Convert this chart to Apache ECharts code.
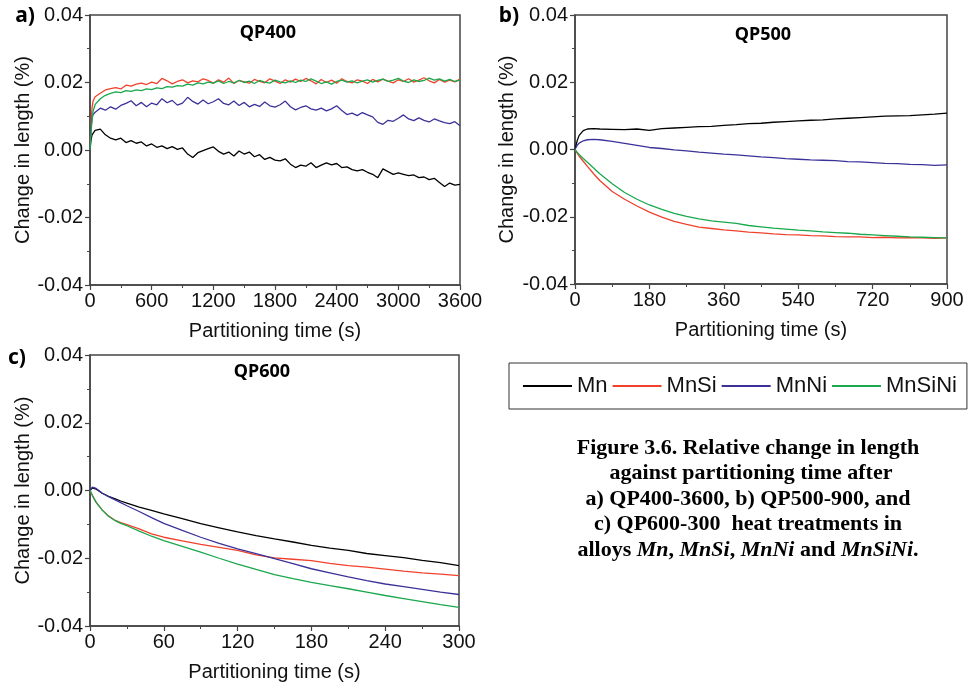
<!DOCTYPE html>
<html><head><meta charset="utf-8">
<script src="https://cdn.jsdelivr.net/npm/echarts@6/dist/echarts.min.js"></script>
<style>html,body{margin:0;padding:0;background:#fff}#c{width:970px;height:687px}</style>
</head><body><div id="c"></div>
<script>
// ---- Panel a) QP400 : time (s) ----
const ta = [0,10,20,30,50,100,150,200,250,300,
 350,400,450,500,550,600,650,700,750,800,
 850,900,950,1000,1050,1100,1150,1200,1250,1300,
 1350,1400,1450,1500,1550,1600,1650,1700,1750,1800,
 1850,1900,1950,2000,2050,2100,2150,2200,2250,2300,
 2350,2400,2450,2500,2550,2600,2650,2700,2750,2800,
 2850,2900,2950,3000,3050,3100,3150,3200,3250,3300,
 3350,3400,3450,3500,3550,3600];
const mnA = [0,0.003,0.0045,0.005,0.0058,0.0062,0.0045,0.0035,0.003,0.0035,
 0.0022,0.0028,0.002,0.0024,0.0012,0.0018,0.0008,0.0012,0.0004,0.001,
 0.0002,0.0006,-0.0012,-0.0022,-0.0008,-0.0002,0.0004,0.0009,-0.0004,-0.0012,
 -0.0006,-0.0018,-0.0003,-0.0012,-0.0006,-0.002,-0.0014,-0.0028,-0.0022,-0.003,
 -0.0032,-0.0026,-0.0042,-0.0052,-0.0045,-0.0048,-0.0038,-0.0052,-0.0045,-0.0038,
 -0.0044,-0.004,-0.0052,-0.005,-0.0058,-0.0062,-0.0058,-0.0066,-0.0072,-0.0082,
 -0.0056,-0.0064,-0.0072,-0.0068,-0.0072,-0.0076,-0.0074,-0.0082,-0.008,-0.0088,
 -0.0084,-0.0096,-0.0108,-0.0098,-0.0104,-0.0102];
const mnsiA = [0,0.0085,0.0125,0.0145,0.0158,0.0168,0.0178,0.0182,0.0185,0.0181,
 0.0192,0.0189,0.0195,0.0198,0.0194,0.0201,0.0197,0.0212,0.0205,0.0196,
 0.0203,0.0208,0.0199,0.0205,0.0202,0.0211,0.0206,0.0198,0.0208,0.0201,
 0.0213,0.0197,0.0206,0.0202,0.0198,0.0209,0.0203,0.0199,0.0211,0.0204,
 0.0197,0.0208,0.0201,0.0210,0.0203,0.0212,0.0205,0.0196,0.0209,0.0200,
 0.0207,0.0198,0.0211,0.0203,0.0199,0.0208,0.0204,0.0197,0.0209,0.0202,
 0.0210,0.0204,0.0199,0.0208,0.0203,0.0211,0.0201,0.0207,0.0214,0.0205,
 0.0199,0.0209,0.0201,0.0207,0.0202,0.0210];
const mnniA = [0,0.0065,0.0095,0.0105,0.0112,0.0124,0.0118,0.0128,0.0121,0.0132,
 0.0138,0.0146,0.0131,0.0141,0.0128,0.0139,0.0134,0.0152,0.0140,0.0147,
 0.0133,0.0139,0.0156,0.0144,0.0136,0.0148,0.0137,0.0143,0.0152,0.0138,
 0.0134,0.0145,0.0132,0.0141,0.0128,0.0135,0.0129,0.0142,0.0131,0.0127,
 0.0134,0.0145,0.0128,0.0119,0.0126,0.0131,0.0122,0.0118,0.0124,0.0116,
 0.0122,0.0131,0.0117,0.0105,0.0109,0.0102,0.0111,0.0104,0.0098,0.0082,
 0.0076,0.0088,0.0085,0.0094,0.0104,0.0092,0.0087,0.0095,0.0088,0.0083,
 0.0092,0.0086,0.0081,0.0078,0.0084,0.0072];
const mnsiniA = [0,0.005,0.009,0.0115,0.0135,0.0152,0.0162,0.0168,0.0172,0.0170,
 0.0176,0.0174,0.0178,0.0176,0.0181,0.0179,0.0184,0.0182,0.0188,0.0186,
 0.0191,0.0189,0.0195,0.0192,0.0199,0.0196,0.0201,0.0198,0.0205,0.0197,
 0.0203,0.0199,0.0206,0.0200,0.0204,0.0197,0.0206,0.0201,0.0198,0.0207,
 0.0202,0.0199,0.0205,0.0200,0.0207,0.0203,0.0211,0.0204,0.0197,0.0202,
 0.0195,0.0203,0.0207,0.0201,0.0205,0.0199,0.0204,0.0208,0.0201,0.0206,
 0.0210,0.0203,0.0207,0.0212,0.0204,0.0200,0.0208,0.0203,0.0206,0.0213,
 0.0207,0.0211,0.0204,0.0209,0.0203,0.0207];

// ---- Panel b) QP500 ----
const tb = [0,5,10,20,30,45,60,90,120,150,180,210,240,270,300,330,360,390,420,450,480,510,540,570,600,630,660,690,720,750,780,810,840,870,900];
const mnB = [0,0.0025,0.0042,0.0056,0.0061,0.0062,0.0061,0.0060,0.0059,0.0061,0.0057,0.0062,0.0064,0.0066,0.0068,0.0069,0.0072,0.0074,0.0077,0.0078,0.0081,0.0083,0.0085,0.0087,0.0088,0.0091,0.0093,0.0095,0.0097,0.0099,0.0100,0.0101,0.0103,0.0105,0.0108];
const mnsiB = [0,-0.0010,-0.0020,-0.0035,-0.0050,-0.0072,-0.0092,-0.0125,-0.0148,-0.0168,-0.0186,-0.0201,-0.0214,-0.0223,-0.0231,-0.0235,-0.0239,-0.0242,-0.0246,-0.0248,-0.0251,-0.0253,-0.0254,-0.0256,-0.0257,-0.0259,-0.0260,-0.0260,-0.0262,-0.0261,-0.0263,-0.0262,-0.0263,-0.0264,-0.0263];
const mnniB = [0,0.0012,0.0019,0.0026,0.0029,0.0030,0.0029,0.0024,0.0018,0.0012,0.0006,0.0003,-0.0001,-0.0004,-0.0008,-0.0011,-0.0014,-0.0016,-0.0019,-0.0022,-0.0024,-0.0027,-0.0029,-0.0031,-0.0032,-0.0033,-0.0036,-0.0037,-0.0039,-0.0041,-0.0042,-0.0044,-0.0045,-0.0047,-0.0046];
const mnsiniB = [0,-0.0008,-0.0015,-0.0027,-0.0038,-0.0055,-0.0072,-0.0102,-0.0128,-0.0148,-0.0165,-0.0178,-0.0190,-0.0199,-0.0206,-0.0212,-0.0216,-0.0220,-0.0226,-0.0230,-0.0234,-0.0237,-0.0240,-0.0242,-0.0245,-0.0247,-0.0249,-0.0252,-0.0254,-0.0256,-0.0258,-0.0260,-0.0261,-0.0262,-0.0263];

// ---- Panel c) QP600 ----
const tc = [0,2,5,10,15,20,25,30,40,50,60,75,90,105,120,135,150,165,180,195,210,225,240,255,270,285,300];
const mnC = [0,0.0008,0.0004,-0.0008,-0.0017,-0.0024,-0.0031,-0.0037,-0.0049,-0.0059,-0.0069,-0.0083,-0.0098,-0.0110,-0.0122,-0.0133,-0.0143,-0.0152,-0.0162,-0.0170,-0.0177,-0.0186,-0.0192,-0.0198,-0.0206,-0.0213,-0.0222];
const mnsiC = [0,-0.0015,-0.0035,-0.0058,-0.0075,-0.0087,-0.0095,-0.0101,-0.0113,-0.0128,-0.0138,-0.0149,-0.0159,-0.0168,-0.0177,-0.0190,-0.0199,-0.0203,-0.0207,-0.0215,-0.0222,-0.0226,-0.0232,-0.0238,-0.0243,-0.0247,-0.0251];
const mnniC = [0,0.0010,0.0006,-0.0008,-0.0018,-0.0027,-0.0036,-0.0045,-0.0062,-0.0080,-0.0097,-0.0118,-0.0138,-0.0156,-0.0172,-0.0186,-0.0201,-0.0216,-0.0231,-0.0243,-0.0255,-0.0266,-0.0276,-0.0284,-0.0292,-0.0300,-0.0307];
const mnsiniC = [0,-0.0015,-0.0035,-0.0058,-0.0076,-0.0088,-0.0097,-0.0104,-0.0120,-0.0135,-0.0148,-0.0165,-0.0182,-0.0200,-0.0217,-0.0233,-0.0248,-0.0260,-0.0271,-0.0281,-0.0290,-0.0300,-0.0310,-0.0319,-0.0328,-0.0337,-0.0345];

const names = ['Mn','MnSi','MnNi','MnSiNi'];
const colors = ['#000000','#f0412c','#3b3299','#19a84c'];
const xMax = [3600,900,300];
const xInt = [600,180,60];
const panelsT = [ta,tb,tc];
const panelsV = [[mnA,mnsiA,mnniA,mnsiniA],[mnB,mnsiB,mnniB,mnsiniB],[mnC,mnsiC,mnniC,mnsiniC]];
const panelTitles = ['QP400','QP500','QP600'];
const panelLetters = ['a)','b)','c)'];
const captionLines = ['Figure 3.6. Relative change in length','against partitioning time after',
  'a) QP400-3600, b) QP500-900, and','c) QP600-300  heat treatments in'];

const axisFont = {fontFamily:'Liberation Sans', fontSize:20, color:'#111'};
const grids = [
  {left:90, top:15, width:370, height:270},
  {left:575, top:15, width:372, height:269},
  {left:90, top:355, width:369, height:271}
].map(g => Object.assign(g, {show:true, borderColor:'#444', borderWidth:1.5, containLabel:false}));

const xAxes = [], yAxes = [], series = [];
for (let p = 0; p < 3; p++) {
  xAxes.push({type:'value', gridIndex:p, min:0, max:xMax[p], interval:xInt[p],
    name:'Partitioning time (s)', nameLocation:'middle', nameGap:36,
    nameTextStyle:{fontFamily:'Liberation Sans', fontSize:20, color:'#111'},
    axisLine:{onZero:false, lineStyle:{color:'#444', width:1.5}},
    axisTick:{inside:false, length:5, lineStyle:{color:'#444', width:1.2}},
    minorTick:{show:true, splitNumber:2, length:3, lineStyle:{color:'#444', width:1}},
    splitLine:{show:false},
    axisLabel:Object.assign({margin:6, formatter:v => String(v)}, axisFont)});
  yAxes.push({type:'value', gridIndex:p, min:-0.04, max:0.04, interval:0.02,
    name:'Change in length (%)', nameLocation:'middle', nameGap:p===1?58:57, nameRotate:90,
    nameTextStyle:{fontFamily:'Liberation Sans', fontSize:20, color:'#111'},
    axisLine:{onZero:false, lineStyle:{color:'#444', width:1.5}},
    axisTick:{inside:false, length:5, lineStyle:{color:'#444', width:1.2}},
    minorTick:{show:true, splitNumber:2, length:3, lineStyle:{color:'#444', width:1}},
    splitLine:{show:false},
    axisLabel:Object.assign({margin:7, formatter:v => v.toFixed(2)}, axisFont)});
  for (let s = 0; s < 4; s++) {
    series.push({type:'line', name:names[s], xAxisIndex:p, yAxisIndex:p,
      showSymbol:false, symbol:'none', smooth:false,
      lineStyle:{color:colors[s], width:1.3}, itemStyle:{color:colors[s]},
      data:panelsT[p].map((t,i)=>[t, panelsV[p][s][i]]), z:2+s});
  }
}

const txt = (x,y,text,font) => ({type:'text', x:x, y:y, silent:true,
  style:{text:text, font:font, fill:'#000', align:'center', verticalAlign:'middle'}});
const titleFont = 'bold 18px "Noto Sans"';
const letterFont = 'bold 21px "Noto Sans"';
const capFont = 'bold 22px "Liberation Serif"';
const graphics = [
  txt(268,33,panelTitles[0],titleFont),
  txt(763,35,panelTitles[1],titleFont),
  txt(262,372,panelTitles[2],titleFont),
  txt(25,16,panelLetters[0],letterFont),
  txt(509,16,panelLetters[1],letterFont),
  txt(17,358,panelLetters[2],letterFont),
  txt(748,448,captionLines[0],capFont),
  txt(751,473.5,captionLines[1],capFont),
  txt(748,499,captionLines[2],capFont),
  txt(748,524.5,captionLines[3],capFont),
  {type:'text', x:748, y:550, silent:true, style:{
    text:'{b|alloys }{i|Mn}{b|, }{i|MnSi}{b|, }{i|MnNi}{b| and }{i|MnSiNi}{b|.}',
    align:'center', verticalAlign:'middle', fill:'#000',
    rich:{b:{font:capFont, fill:'#000'}, i:{font:'italic bold 22px "Liberation Serif"', fill:'#000'}}}}
];

const chart = echarts.init(document.getElementById('c'), null, {renderer:'canvas'});
chart.setOption({
  animation:false,
  backgroundColor:'#fff',
  grid:grids, xAxis:xAxes, yAxis:yAxes, series:series,
  legend:{data:names, left:509, top:363, padding:[12,10,12,14], itemGap:5, itemWidth:49, itemHeight:14,
    borderColor:'#333', borderWidth:1, borderRadius:0, icon:'path://M0,6 L49,6 L49,8 L0,8 Z',
    textStyle:{fontFamily:'Liberation Sans', fontSize:22, color:'#111'}},
  graphic:graphics
});
</script></body></html>
